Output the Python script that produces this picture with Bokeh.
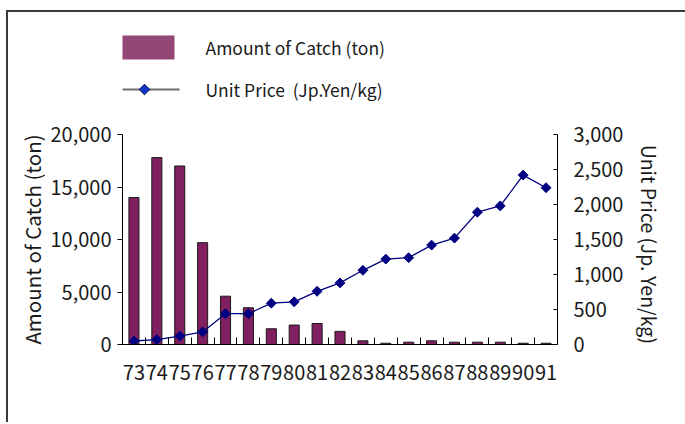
import numpy as np
from bokeh.plotting import figure
from bokeh.layouts import column
from bokeh.core.properties import value
from bokeh.models import Range1d, LinearAxis, FixedTicker, NumeralTickFormatter
from bokeh.embed import file_html
from bokeh.resources import INLINE

# ---- data ----
years = ["73", "74", "75", "76", "77", "78", "79", "80", "81", "82",
         "83", "84", "85", "86", "87", "88", "89", "90", "91"]
catch_ton = [14000, 17800, 17000, 9700, 4600, 3500, 1500, 1850, 2000, 1250,
             350, 120, 220, 350, 220, 220, 220, 120, 120]
price_yen = [50, 70, 120, 180, 440, 440, 590, 610, 760, 880,
             1060, 1220, 1240, 1420, 1520, 1890, 1980, 2420, 2240]
left_ticks = [0, 5000, 10000, 15000, 20000]
right_ticks = [0, 500, 1000, 1500, 2000, 2500, 3000]
series_names = ["Amount of Catch (ton)", "Unit Price\u00a0 (Jp.Yen/kg)"]
left_title = "Amount of Catch (ton)"
right_title = "Unit Price (Jp. Yen/kg)"

FONT = "Noto Sans CJK JP"
W = 677
BL, BR = 114, 128          # left / right borders around the plot frame
FW = W - BL - BR           # frame width
idx = list(range(len(years)))

# ---------- legend strip (ranges in pixels of the strip, y down) ----------
LH = 100
lf = figure(width=W, height=LH, x_range=Range1d(BL, BL + FW), y_range=Range1d(LH, 0),
            output_backend="svg", toolbar_location=None,
            min_border_left=BL, min_border_right=BR, min_border_top=0,
            min_border_bottom=0, x_axis_location=None, y_axis_location=None)
lf.grid.visible = False
lf.outline_line_color = None
lf.background_fill_color = None
lf.quad(left=[112], right=[166], top=[23], bottom=[47], fill_color="#934777",
        line_color=None)
lf.line(x=[112, 171], y=[77, 77], line_color="#6e6e6e", line_width=2)
lf.scatter(x=[136], y=[77], marker="square", angle=np.pi / 4, size=7.5,
           fill_color="#1034C8", line_color="#000a50", line_width=1)
lf.text(x=[197, 197], y=[35, 77], text=series_names, text_baseline="middle",
        text_align="left", text_font=value(FONT), text_font_size="17.5px",
        text_color="#1a1a1a")

# ---------- main chart ----------
p = figure(width=W, height=310, x_range=Range1d(-0.5, len(years) - 0.5),
           y_range=Range1d(0, 20000), output_backend="svg", toolbar_location=None,
           min_border_left=BL, min_border_right=BR, min_border_top=22,
           min_border_bottom=78)
p.outline_line_color = None
p.grid.visible = False

p.extra_y_ranges = {"price": Range1d(0, 3000)}

p.vbar(x=idx, top=catch_ton, width=0.44, fill_color="#802060",
       line_color="#1a1a1a", line_width=1)
p.line(idx, price_yen, y_range_name="price", line_color="#000080", line_width=1.3)
p.scatter(idx, price_yen, y_range_name="price", marker="square", angle=np.pi / 4,
          size=7, fill_color="#000080", line_color="#000080")

xa = p.xaxis[0]
xa.ticker = FixedTicker(ticks=idx, minor_ticks=[i - 0.5 for i in range(len(years) + 1)])
xa.major_label_overrides = {i: y for i, y in zip(idx, years)}
xa.major_tick_in = 0
xa.major_tick_out = 0
xa.minor_tick_in = 7
xa.minor_tick_out = 0
xa.minor_tick_line_color = "black"
xa.axis_line_color = "black"
xa.major_label_standoff = 20
xa.major_label_text_font = FONT
xa.major_label_text_font_size = "20px"
xa.major_label_text_color = "#1a1a1a"

ya = p.yaxis[0]
ya.ticker = FixedTicker(ticks=left_ticks)
ya.formatter = NumeralTickFormatter(format="0,0")
ya.minor_tick_line_color = None
ya.major_tick_in = 0
ya.major_tick_out = 5
ya.major_label_standoff = 6
ya.major_label_text_font = FONT
ya.major_label_text_font_size = "20px"
ya.major_label_text_color = "#1a1a1a"
ya.axis_label = left_title
ya.axis_label_text_font = FONT
ya.axis_label_text_font_size = "20.5px"
ya.axis_label_text_font_style = "normal"
ya.axis_label_text_color = "#1a1a1a"
ya.axis_label_standoff = 0

ra = LinearAxis(y_range_name="price", ticker=FixedTicker(ticks=right_ticks),
                formatter=NumeralTickFormatter(format="0,0"))
ra.minor_tick_line_color = None
ra.major_tick_in = 4
ra.major_tick_out = 0
ra.major_label_standoff = 16
ra.major_label_text_font = FONT
ra.major_label_text_font_size = "20px"
ra.major_label_text_color = "#1a1a1a"
p.add_layout(ra, "right")

# right-hand title, reading bottom-to-top, as the single label of a bare axis
rt = LinearAxis(y_range_name="price", ticker=FixedTicker(ticks=[1430]),
                major_label_overrides={1430: right_title})
rt.axis_line_color = None
rt.major_tick_line_color = None
rt.minor_tick_line_color = None
rt.major_tick_in = 0
rt.major_tick_out = 0
rt.major_label_orientation = "vertical"
rt.major_label_standoff = 8
rt.major_label_text_font = FONT
rt.major_label_text_font_size = "19.5px"
rt.major_label_text_color = "#1a1a1a"
p.add_layout(rt, "right")

layout = column(lf, p, spacing=0)
layout.styles = {"border-left": "2px solid #3c3c3c", "border-top": "2px solid #3c3c3c",
                 "margin-left": "6px", "margin-top": "10px"}

open("out.html", "w").write(file_html(layout, INLINE))
